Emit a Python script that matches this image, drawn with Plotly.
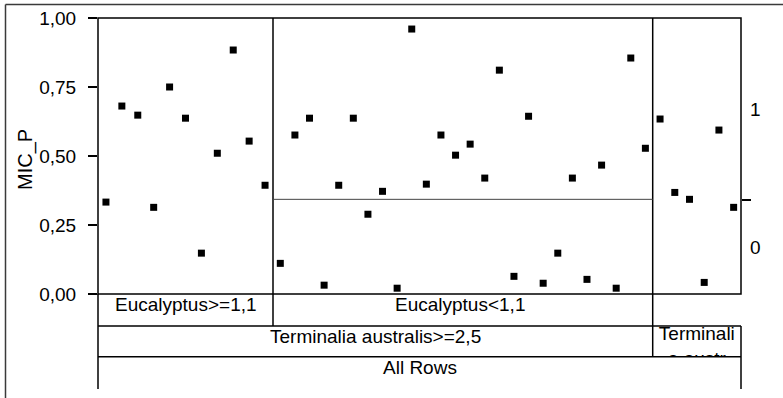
import plotly.graph_objects as go

# ---------------- data ----------------
response_name = "MIC_P"
y_ticks = [0.0, 0.25, 0.5, 0.75, 1.0]

leaf_labels = ["Eucalyptus>=1,1", "Eucalyptus<1,1"]
parent_labels = ["Terminalia australis>=2,5", "Terminali<br>a austr"]
root_label = "All Rows"

# MIC_P values of the rows in each leaf (left to right)
eucalyptus_hi_vals = [0.333, 0.681, 0.648, 0.314, 0.750, 0.637, 0.148, 0.510, 0.884, 0.554, 0.394]
eucalyptus_lo_vals = [0.111, 0.576, 0.637, 0.032, 0.394, 0.637, 0.289, 0.372, 0.021, 0.960,
                      0.398, 0.576, 0.503, 0.543, 0.420, 0.811, 0.064, 0.644, 0.039, 0.148,
                      0.420, 0.053, 0.467, 0.021, 0.855, 0.528]
terminalia_lo_vals = [0.634, 0.368, 0.343, 0.042, 0.594, 0.314]

eucalyptus_lo_split = 0.343     # level boundary in Eucalyptus<1,1 leaf
overall_split = 0.34            # level boundary on right axis
right_levels = ["0", "1"]

# ---------------- layout helpers ----------------
W, H = 783, 398
L, R, T, B = 98, 741, 18, 389
Y0 = 294


def px_x(x):
    return (x - L) / (R - L)


def px_y(y):
    return (B - y) / (B - T)


bounds = [0.0, px_x(273), px_x(652.7), 1.0]
groups = [eucalyptus_hi_vals, eucalyptus_lo_vals, terminalia_lo_vals]

xs, ys = [], []
for g, vals in enumerate(groups):
    x0, x1 = bounds[g], bounds[g + 1]
    n = len(vals)
    for i, v in enumerate(vals):
        xs.append(x0 + (x1 - x0) * (i + 0.5) / n)
        ys.append(v)

FONT = "Arial, Liberation Sans, sans-serif"
FS = 19
TFS = 19
fig = go.Figure()
fig.add_trace(go.Scatter(x=xs, y=ys, mode="markers",
                         marker=dict(symbol="square", size=7, color="black", line=dict(width=0)),
                         showlegend=False, hoverinfo="skip"))

# clipped label for the Terminalia < 2,5 node
fig.add_trace(go.Scatter(x=[0.5], y=[1.0], mode="text", text=[parent_labels[1]],
                         textposition="bottom center", cliponaxis=True,
                         textfont=dict(family=FONT, size=FS, color="black"),
                         xaxis="x3", yaxis="y3", showlegend=False, hoverinfo="skip"))
# right axis dummy
fig.add_trace(go.Scatter(x=[None], y=[None], yaxis="y2", showlegend=False))

LC = "black"
LW = 1.5
shapes = []


def line(x0, y0, x1, y1, color=LC, width=LW, xref="paper", yref="paper"):
    shapes.append(dict(type="line", x0=x0, y0=y0, x1=x1, y1=y1, xref=xref, yref=yref,
                       line=dict(color=color, width=width)))


# plot box
shapes.append(dict(type="rect", xref="paper", yref="paper", x0=0, x1=1, y0=px_y(Y0), y1=1,
                   line=dict(color=LC, width=LW)))
line(bounds[1], 1, bounds[1], px_y(326))
line(bounds[2], 1, bounds[2], px_y(356.7))
line(0, px_y(Y0), 0, 0)
line(1, px_y(326), 1, 0)
line(0, px_y(326), 1, px_y(326))
line(0, px_y(356.7), 1, px_y(356.7))
# level split in Eucalyptus<1,1 leaf
line(bounds[1], eucalyptus_lo_split, bounds[2], eucalyptus_lo_split, color="#444", width=1,
     xref="paper", yref="y")
# outer frame
line(px_x(5.5), px_y(4.5), px_x(5.5), px_y(398), color="#3a3a3a", width=1.5)
line(px_x(5.5), px_y(4.5), px_x(783), px_y(4.5), color="#3a3a3a", width=1.5)

annotations = []


def label(text, xpx, ypx, size=FS, angle=0):
    annotations.append(dict(text=text, x=px_x(xpx), y=px_y(ypx), xref="paper", yref="paper",
                            showarrow=False, xanchor="center", yanchor="middle", textangle=angle,
                            font=dict(family=FONT, size=size, color="black")))


label(leaf_labels[0], (98 + 273) / 2, 304.5)
label(leaf_labels[1], (273 + 652.7) / 2 - 3, 304.5)
label(parent_labels[0], (98 + 652.7) / 2, 336)
label(root_label, (98 + 741) / 2, 367)
label(response_name, 25, 160, size=20, angle=-90)

fig.update_layout(
    template="none",
    width=W, height=H,
    margin=dict(l=L, r=W - R, t=T, b=H - B, pad=0, autoexpand=False),
    paper_bgcolor="white", plot_bgcolor="white",
    separators=", ",
    font=dict(family=FONT, size=FS, color="black"),
    shapes=shapes, annotations=annotations,
    xaxis=dict(domain=[0, 1], range=[0, 1], visible=False, fixedrange=True, automargin=False),
    yaxis=dict(domain=[px_y(Y0), 1], range=[0, 1], tickvals=y_ticks, tickformat=".2f",
               ticks="outside", ticklen=9, tickwidth=1.5, tickcolor="black", automargin=False,
               showgrid=False, zeroline=False, showline=False, ticklabelstandoff=8,
               tickfont=dict(family=FONT, size=TFS, color="black")),
    yaxis2=dict(overlaying="y", side="right", range=[0, 1], automargin=False,
                tickvals=[overall_split / 2, (1 + overall_split) / 2], ticktext=right_levels,
                ticks="", showgrid=False, zeroline=False, showline=False, ticklabelstandoff=8,
                minor=dict(tickvals=[overall_split], ticks="outside", ticklen=9, tickwidth=1.5,
                           tickcolor="black", showgrid=False),
                tickfont=dict(family=FONT, size=TFS, color="black")),
    xaxis3=dict(domain=[bounds[2], 1], range=[0, 1], visible=False, anchor="y3", automargin=False),
    yaxis3=dict(domain=[px_y(356.7), px_y(326)], range=[0, 1], visible=False, anchor="x3",
                automargin=False),
)

fig.write_html("out.html")
